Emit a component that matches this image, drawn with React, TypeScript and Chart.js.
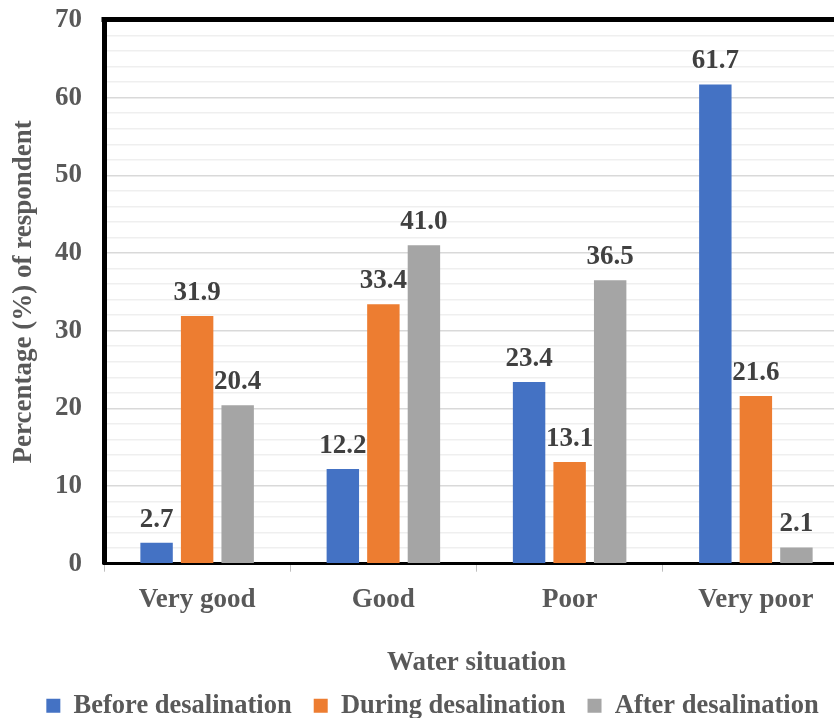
import React, { useEffect, useRef } from "react";
import { Chart, registerables } from "chart.js";

Chart.register(...registerables);

const categories = ["Very good", "Good", "Poor", "Very poor"];
const beforeValues = [2.7, 12.2, 23.4, 61.7];
const duringValues = [31.9, 33.4, 13.1, 21.6];
const afterValues = [20.4, 41.0, 36.5, 2.1];
const seriesNames = ["Before desalination", "During desalination", "After desalination"];
const seriesColors = ["#4472C4", "#ED7D31", "#A5A5A5"];
const yMin = 0;
const yMax = 70;
const yMinorStep = 2;
const yLabelStep = 10;

const FONT = '"Liberation Serif", "Times New Roman", serif';
const FS = 27;

const customPlugin = {
  id: "customDecor",
  afterDatasetsDraw(chart: any) {
    const ctx = chart.ctx;
    const { left, right, top } = chart.chartArea;
    ctx.save();
    ctx.fillStyle = "#000000";
    ctx.fillRect(left - 2.5, top - 3, right - left + 2.5, 5);
    ctx.font = `bold ${FS}px ${FONT}`;
    ctx.fillStyle = "#404040";
    ctx.textAlign = "center";
    ctx.textBaseline = "alphabetic";
    chart.data.datasets.forEach((ds: any, i: number) => {
      const meta = chart.getDatasetMeta(i);
      meta.data.forEach((bar: any, j: number) => {
        ctx.fillText(Number(ds.data[j]).toFixed(1), bar.x, bar.y - 16);
      });
    });
    ctx.restore();
  },
};

export default function App() {
  const canvasRef = useRef<HTMLCanvasElement | null>(null);

  useEffect(() => {
    document.body.style.margin = "0";
    if (!canvasRef.current) return;
    const values = [beforeValues, duringValues, afterValues];
    const chart = new Chart(canvasRef.current, {
      type: "bar",
      data: {
        labels: categories,
        datasets: seriesNames.map((name, i) => ({
          label: name,
          data: values[i],
          backgroundColor: seriesColors[i],
          borderWidth: 0,
          categoryPercentage: 0.653,
          barPercentage: 0.8,
        })),
      },
      options: {
        responsive: false,
        animation: false,
        devicePixelRatio: 1,
        layout: { padding: { left: 16, right: 1, top: 20, bottom: -11 } },
        plugins: {
          tooltip: { enabled: false },
          legend: {
            position: "bottom",
            labels: {
              boxWidth: 14,
              boxHeight: 14,
              padding: 22,
              color: "#595959",
              font: { family: FONT, size: 26.5, weight: "bold" },
            },
          },
        },
        scales: {
          x: {
            grid: {
              offset: true,
              drawOnChartArea: false,
              drawTicks: true,
              tickLength: 8,
              color: "#bfbfbf",
            },
            border: { display: true, color: "#000000", width: 3 },
            ticks: {
              color: "#595959",
              padding: 12,
              font: { family: FONT, size: FS, weight: "bold" },
            },
            title: {
              display: true,
              text: "Water situation",
              color: "#595959",
              padding: { top: 19, bottom: -9 },
              font: { family: FONT, size: FS, weight: "bold" },
            },
          },
          y: {
            min: yMin,
            max: yMax,
            afterFit(scale: any) {
              scale.width = 88;
              scale.paddingTop = 0;
              scale.paddingBottom = 0;
            },
            grid: {
              drawTicks: false,
              color: (c: any) =>
                c.tick && c.tick.value % yLabelStep === 0 ? "#d9d9d9" : "#efefef",
              lineWidth: 1.5,
            },
            border: { display: true, color: "#000000", width: 5 },
            ticks: {
              stepSize: yMinorStep,
              autoSkip: false,
              padding: 22,
              color: "#595959",
              font: { family: FONT, size: FS, weight: "bold" },
              callback: (v: any) => (Number(v) % yLabelStep === 0 ? String(v) : ""),
            },
            title: {
              display: true,
              text: "Percentage (%) of respondent",
              color: "#595959",
              padding: { top: -8, bottom: 4 },
              font: { family: FONT, size: FS, weight: "bold" },
            },
          },
        },
      },
      plugins: [customPlugin],
    });
    return () => chart.destroy();
  }, []);

  return (
    <div style={{ width: 834, height: 718, overflow: "hidden", background: "#ffffff" }}>
      <canvas ref={canvasRef} width={850} height={718} style={{ width: 850, height: 718, display: "block" }} />
    </div>
  );
}
